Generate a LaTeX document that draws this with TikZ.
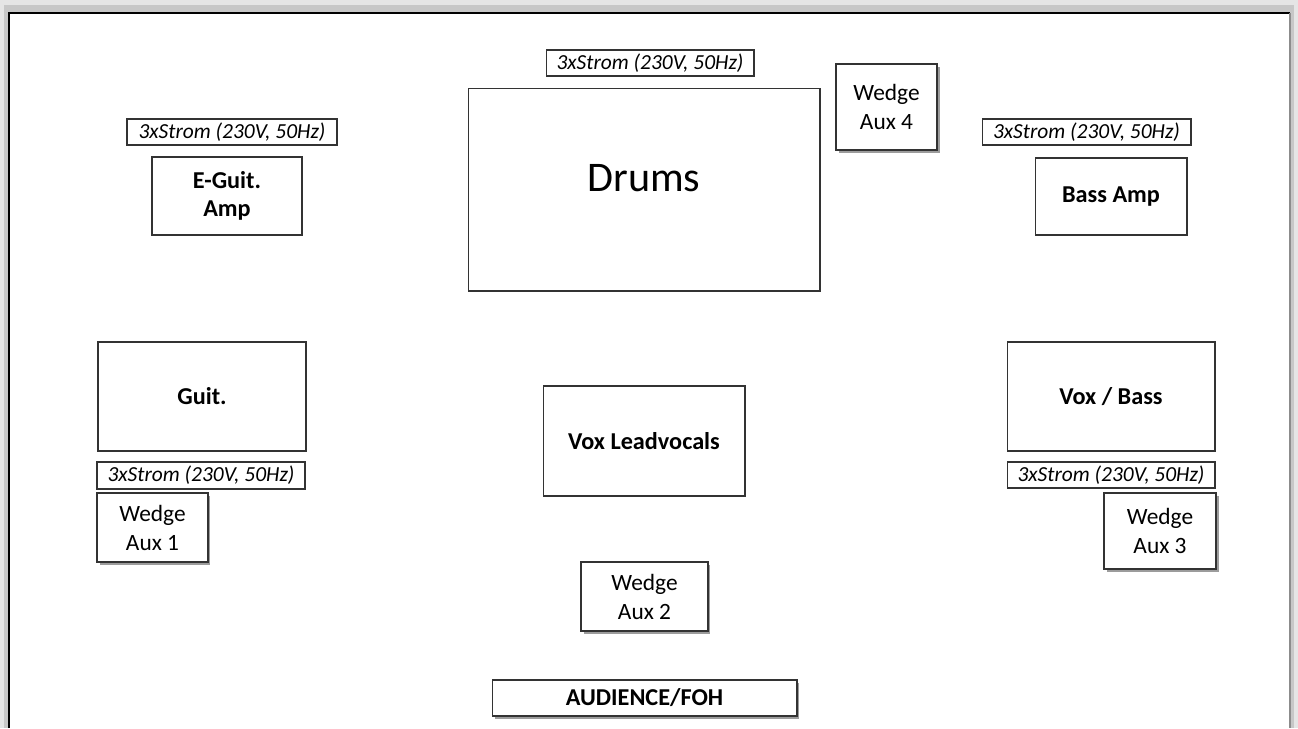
\documentclass[tikz,border=0pt]{standalone}
\usepackage{fontspec}
\setmainfont{Carlito}
\usetikzlibrary{shadows}

\tikzset{
	stage/.style={draw=black!80, line width=0.6pt, fill=white, inner sep=0pt, align=center},
	player/.style={stage, font=\fontsize{13.8}{15.5}\selectfont\bfseries},
	power/.style={stage, font=\fontsize{12.2}{14}\selectfont\itshape},
	wedge/.style={stage, font=\fontsize{13.3}{16.5}\selectfont,
		drop shadow={shadow xshift=0.05cm, shadow yshift=-0.05cm, fill=black!55, opacity=0.7}},
}

\begin{document}
\begin{tikzpicture}[x=0.02cm, y=-0.02cm]

	\useasboundingbox (0, 0) rectangle (1298, 728);
	\fill[black!22] (0, 0) rectangle (1298, 728);
	\fill[black!10] (0, 0) rectangle (1298, 5);
	\fill[black!10] (0, 0) rectangle (4, 728);
	\fill[black!10] (1294, 0) rectangle (1298, 728);
	\fill[white] (9, 13) rectangle (1290, 728);
	\draw[line width=0.7pt] (9, 728) -- (9, 13) -- (1290, 13);
	\draw[line width=0.7pt, black!45] (1290, 13) -- (1290, 728);

	\node[stage, minimum width=7.04cm, minimum height=4.06cm,
		label={[font=\fontsize{24}{28}\selectfont, yshift=0.23cm]center:Drums}] (drums) at (644, 189.5) {};
	\node[power, minimum width=4.16cm, minimum height=0.52cm] (drumspower) at (650, 63) {3xStrom (230V, 50Hz)};
	\node[wedge, minimum width=2.02cm, minimum height=1.72cm] (aux4) at (886.5, 107) {Wedge\\Aux 4};

	\node[power, minimum width=4.2cm, minimum height=0.52cm] (guitpower) at (232, 132) {3xStrom (230V, 50Hz)};
	\node[player, minimum width=3cm, minimum height=1.56cm] (guitamp) at (227, 196) {E-Guit.\\Amp};

	\node[power, minimum width=4.18cm, minimum height=0.52cm] (basspower) at (1086.5, 132) {3xStrom (230V, 50Hz)};
	\node[player, minimum width=3.04cm, minimum height=1.54cm] (bassamp) at (1111, 196.5) {Bass Amp};

	\node[player, minimum width=4.16cm, minimum height=2.18cm] (guit) at (202, 396.5) {Guit.};
	\node[power, minimum width=4.16cm, minimum height=0.54cm] (guitpower2) at (201, 475.5) {3xStrom (230V, 50Hz)};
	\node[wedge, minimum width=2.22cm, minimum height=1.38cm] (aux1) at (152.5, 527.5) {Wedge\\Aux 1};

	\node[player, minimum width=4.04cm, minimum height=2.2cm] (lead) at (644, 441) {Vox Leadvocals};
	\node[wedge, minimum width=2.54cm, minimum height=1.38cm] (aux2) at (644.5, 596.5) {Wedge\\Aux 2};

	\node[player, minimum width=4.16cm, minimum height=2.18cm] (voxbass) at (1111, 396.5) {Vox / Bass};
	\node[power, minimum width=4.16cm, minimum height=0.52cm] (voxpower) at (1111, 475) {3xStrom (230V, 50Hz)};
	\node[wedge, minimum width=2.24cm, minimum height=1.52cm] (aux3) at (1160, 531) {Wedge\\Aux 3};

	\node[player, minimum width=6.1cm, minimum height=0.72cm,
		drop shadow={shadow xshift=0.05cm, shadow yshift=-0.05cm, fill=black!55, opacity=0.7}] (foh) at (644.5, 698) {AUDIENCE/FOH};
\end{tikzpicture}
\end{document}
